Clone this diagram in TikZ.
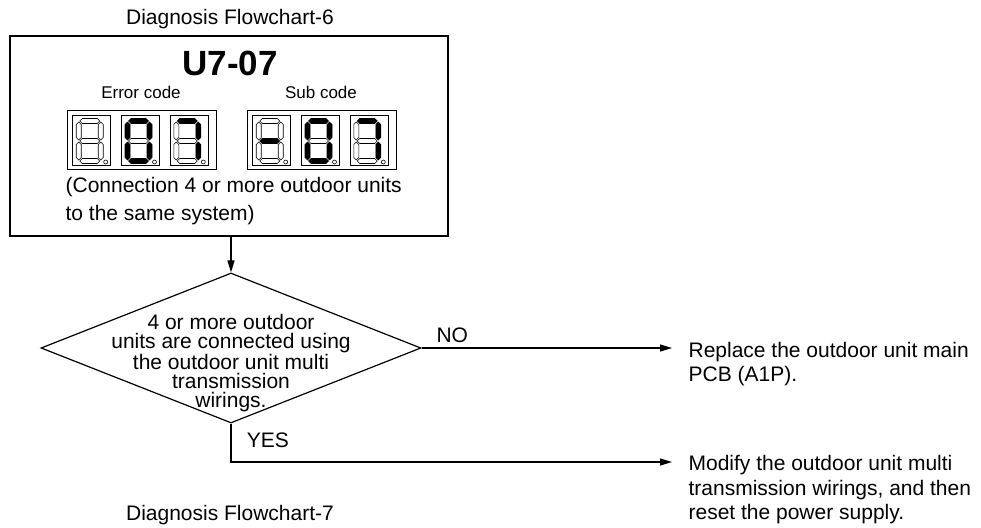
\documentclass[tikz,border=0pt]{standalone}
\usepackage{fontspec}
\setmainfont{Liberation Sans}
\usetikzlibrary{arrows.meta,shapes.geometric}

% seven-segment pieces: horizontal (20 long) and vertical (18 long)
\newcommand{\hseg}[3]{\draw[#1] (#2,#3) -- ++(2.5,-2.5) -- ++(15,0) -- ++(2.5,2.5) -- ++(-2.5,2.5) -- ++(-15,0) -- cycle;}
\newcommand{\vseg}[3]{\draw[#1] (#2,#3) -- ++(2.5,2.5) -- ++(0,13) -- ++(-2.5,2.5) -- ++(-2.5,-2.5) -- ++(0,-13) -- cycle;}
% one digit cell: top-left corner, then styles of segments a,b,c,d,e,f,g
\newcommand{\digitcell}[9]{%
  \begin{scope}[shift={(#1,#2)}]
    \draw[cellbox] (0,0) rectangle (37.5,50);
    \hseg{#3}{7}{6}
    \vseg{#4}{28}{7}
    \vseg{#5}{28}{27}
    \hseg{#6}{7}{46}
    \vseg{#7}{6}{27}
    \vseg{#8}{6}{7}
    \hseg{#9}{7}{26}
    \draw[cellbox] (33,47) circle (2pt);
  \end{scope}}

\begin{document}
\begin{tikzpicture}[x=1pt, y=-1pt, line width=1.2pt,
    font=\fontsize{21}{24}\selectfont,
    cellbox/.style={line width=0.6pt},
    segoff/.style={line width=0.6pt, fill=white},
    segon/.style={line width=0.6pt, fill=black},
    flow/.style={line width=1.2pt, -{Triangle[length=12pt,width=7pt]}},
    txt/.style={inner sep=0pt, align=left}]
    \useasboundingbox (0,0) rectangle (981,527);

    % Header box
    \node[anchor=base] (title6) at (230,25) {Diagnosis Flowchart-6};
    \node[draw, line width=1.4pt, minimum width=438pt, minimum height=200pt, inner sep=0pt] (box) at (229,136) {};
    \node[anchor=base, font=\bfseries\fontsize{35}{35}\selectfont] (code) at (230,75) {U7-07};
    \node[anchor=base, font=\fontsize{17}{17}\selectfont] (err) at (141,98) {Error code};
    \node[anchor=base, font=\fontsize{17}{17}\selectfont] (sub) at (321,98) {Sub code};

    % Displays
    \draw[cellbox] (67,110) rectangle (216,169);
    \digitcell{72.7}{115}{segoff}{segoff}{segoff}{segoff}{segoff}{segoff}{segoff}
    \digitcell{121.5}{115}{segon}{segon}{segon}{segon}{segon}{segon}{segoff}
    \digitcell{170.3}{115}{segon}{segon}{segon}{segoff}{segoff}{segoff}{segoff}
    \draw[cellbox] (247,110) rectangle (396,169);
    \digitcell{252.7}{115}{segoff}{segoff}{segoff}{segoff}{segoff}{segoff}{segon}
    \digitcell{301.5}{115}{segon}{segon}{segon}{segon}{segon}{segon}{segoff}
    \digitcell{350.3}{115}{segon}{segon}{segon}{segoff}{segoff}{segoff}{segoff}

    \node[txt, anchor=north west, font=\fontsize{21}{28}\selectfont] (cond) at (65,177)
        {(Connection 4 or more outdoor units\\to the same system)};

    % Decision
    \node[draw, diamond, minimum width=380pt, minimum height=150pt, inner sep=0pt] (dia) at (231,348) {};
    \node[txt, align=center, anchor=north, font=\fontsize{21}{19}\selectfont] (ask) at (231,314)
        {4 or more outdoor\\units are connected using\\the outdoor unit multi\\transmission\\wirings.};
    \draw[flow] (dia.north |- box.south) -- (dia.north);

    % Outcomes
    \node[txt, anchor=north west, inner xsep=16pt] (rep) at (672,342)
        {Replace the outdoor unit main\\PCB (A1P).};
    \node[txt, anchor=north west, inner xsep=16pt, font=\fontsize{21}{24.5}\selectfont] (mod) at (672,455)
        {Modify the outdoor unit multi\\transmission wirings, and then\\reset the power supply.};

    \draw[flow] (dia.east) -- ([yshift=-6pt]rep.north west)
        node[pos=0, anchor=base west, xshift=11pt, yshift=5.5pt] {NO};
    \draw[flow] (dia.south) |- ([yshift=-7pt]mod.north west)
        node[pos=0, anchor=base west, xshift=12pt, yshift=-23.5pt] {YES};

    \node[anchor=base] (title7) at (230,520.5) {Diagnosis Flowchart-7};
\end{tikzpicture}
\end{document}
